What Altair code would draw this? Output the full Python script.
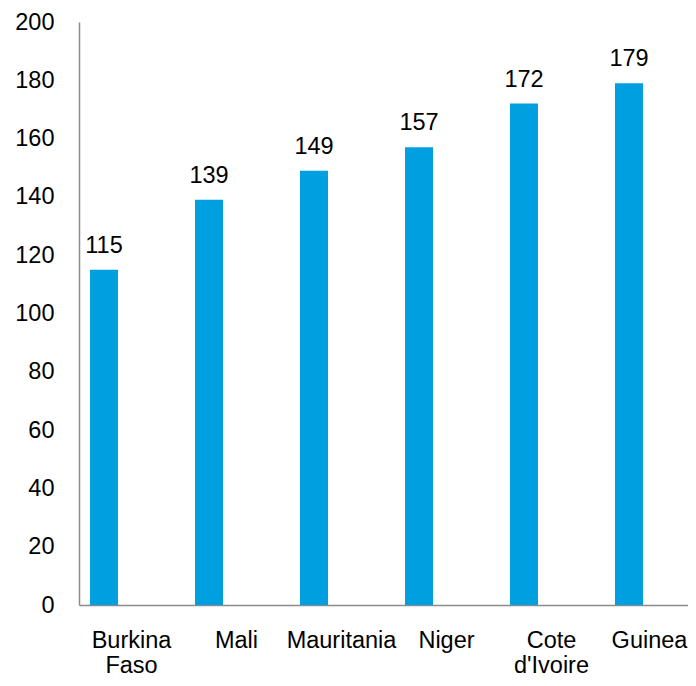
import altair as alt
import pandas as pd

countries = ["Burkina Faso", "Mali", "Mauritania", "Niger", "Cote d'Ivoire", "Guinea"]
values = [115, 139, 149, 157, 172, 179]
y_ticks = [0, 20, 40, 60, 80, 100, 120, 140, 160, 180, 200]

df = pd.DataFrame({"country": countries, "value": values})

FONT = "Liberation Sans"
FS = 23.5
BAR_COLOR = "#009FE0"

x_enc = alt.X(
    "country:N",
    sort=countries,
    scale=alt.Scale(range=[0, 630], paddingInner=0, paddingOuter=0),
    axis=alt.Axis(
        title=None,
        labelAngle=0,
        labelExpr="split(datum.value, ' ')",
        labelFont=FONT,
        labelFontSize=FS,
        labelColor="#000000",
        labelPadding=42,
        labelLineHeight=25,
        labelBaseline="alphabetic",
        labelOffset={"condition": {"test": "datum.value == 'Guinea'", "value": -7}, "value": 0},
        ticks=False,
        tickSize=0,
        domainColor="#8c8c8c",
        domainWidth=1.5,
        grid=False,
    ),
)

y_enc = alt.Y(
    "value:Q",
    scale=alt.Scale(domain=[0, 200], nice=False),
    axis=alt.Axis(
        title=None,
        values=y_ticks,
        labelFont=FONT,
        labelFontSize=FS,
        labelColor="#000000",
        labelPadding=25,
        ticks=False,
        tickSize=0,
        domainColor="#8c8c8c",
        domainWidth=1.5,
        grid=False,
    ),
)

base = alt.Chart(df).encode(x=x_enc, y=y_enc)

bars = base.mark_bar(size=28, xOffset=-27.5, color=BAR_COLOR)

labels = base.mark_text(
    font=FONT, fontSize=FS, color="#000000", baseline="alphabetic", dy=-17, xOffset=-27.5
).encode(text="value:Q")

chart = (
    alt.layer(bars, labels)
    .properties(
        width=609,
        height=583,
        autosize=alt.AutoSizeParams(type="none"),
        padding={"left": 71, "top": 14, "right": 0, "bottom": 73},
        view=alt.ViewBackground(stroke="transparent", strokeWidth=0, strokeOpacity=0),
    )
    .configure_view(stroke="transparent", strokeWidth=0, strokeOpacity=0)
    .configure(background="white")
)

chart.save("out.html", embed_options={"renderer": "svg", "actions": False})
